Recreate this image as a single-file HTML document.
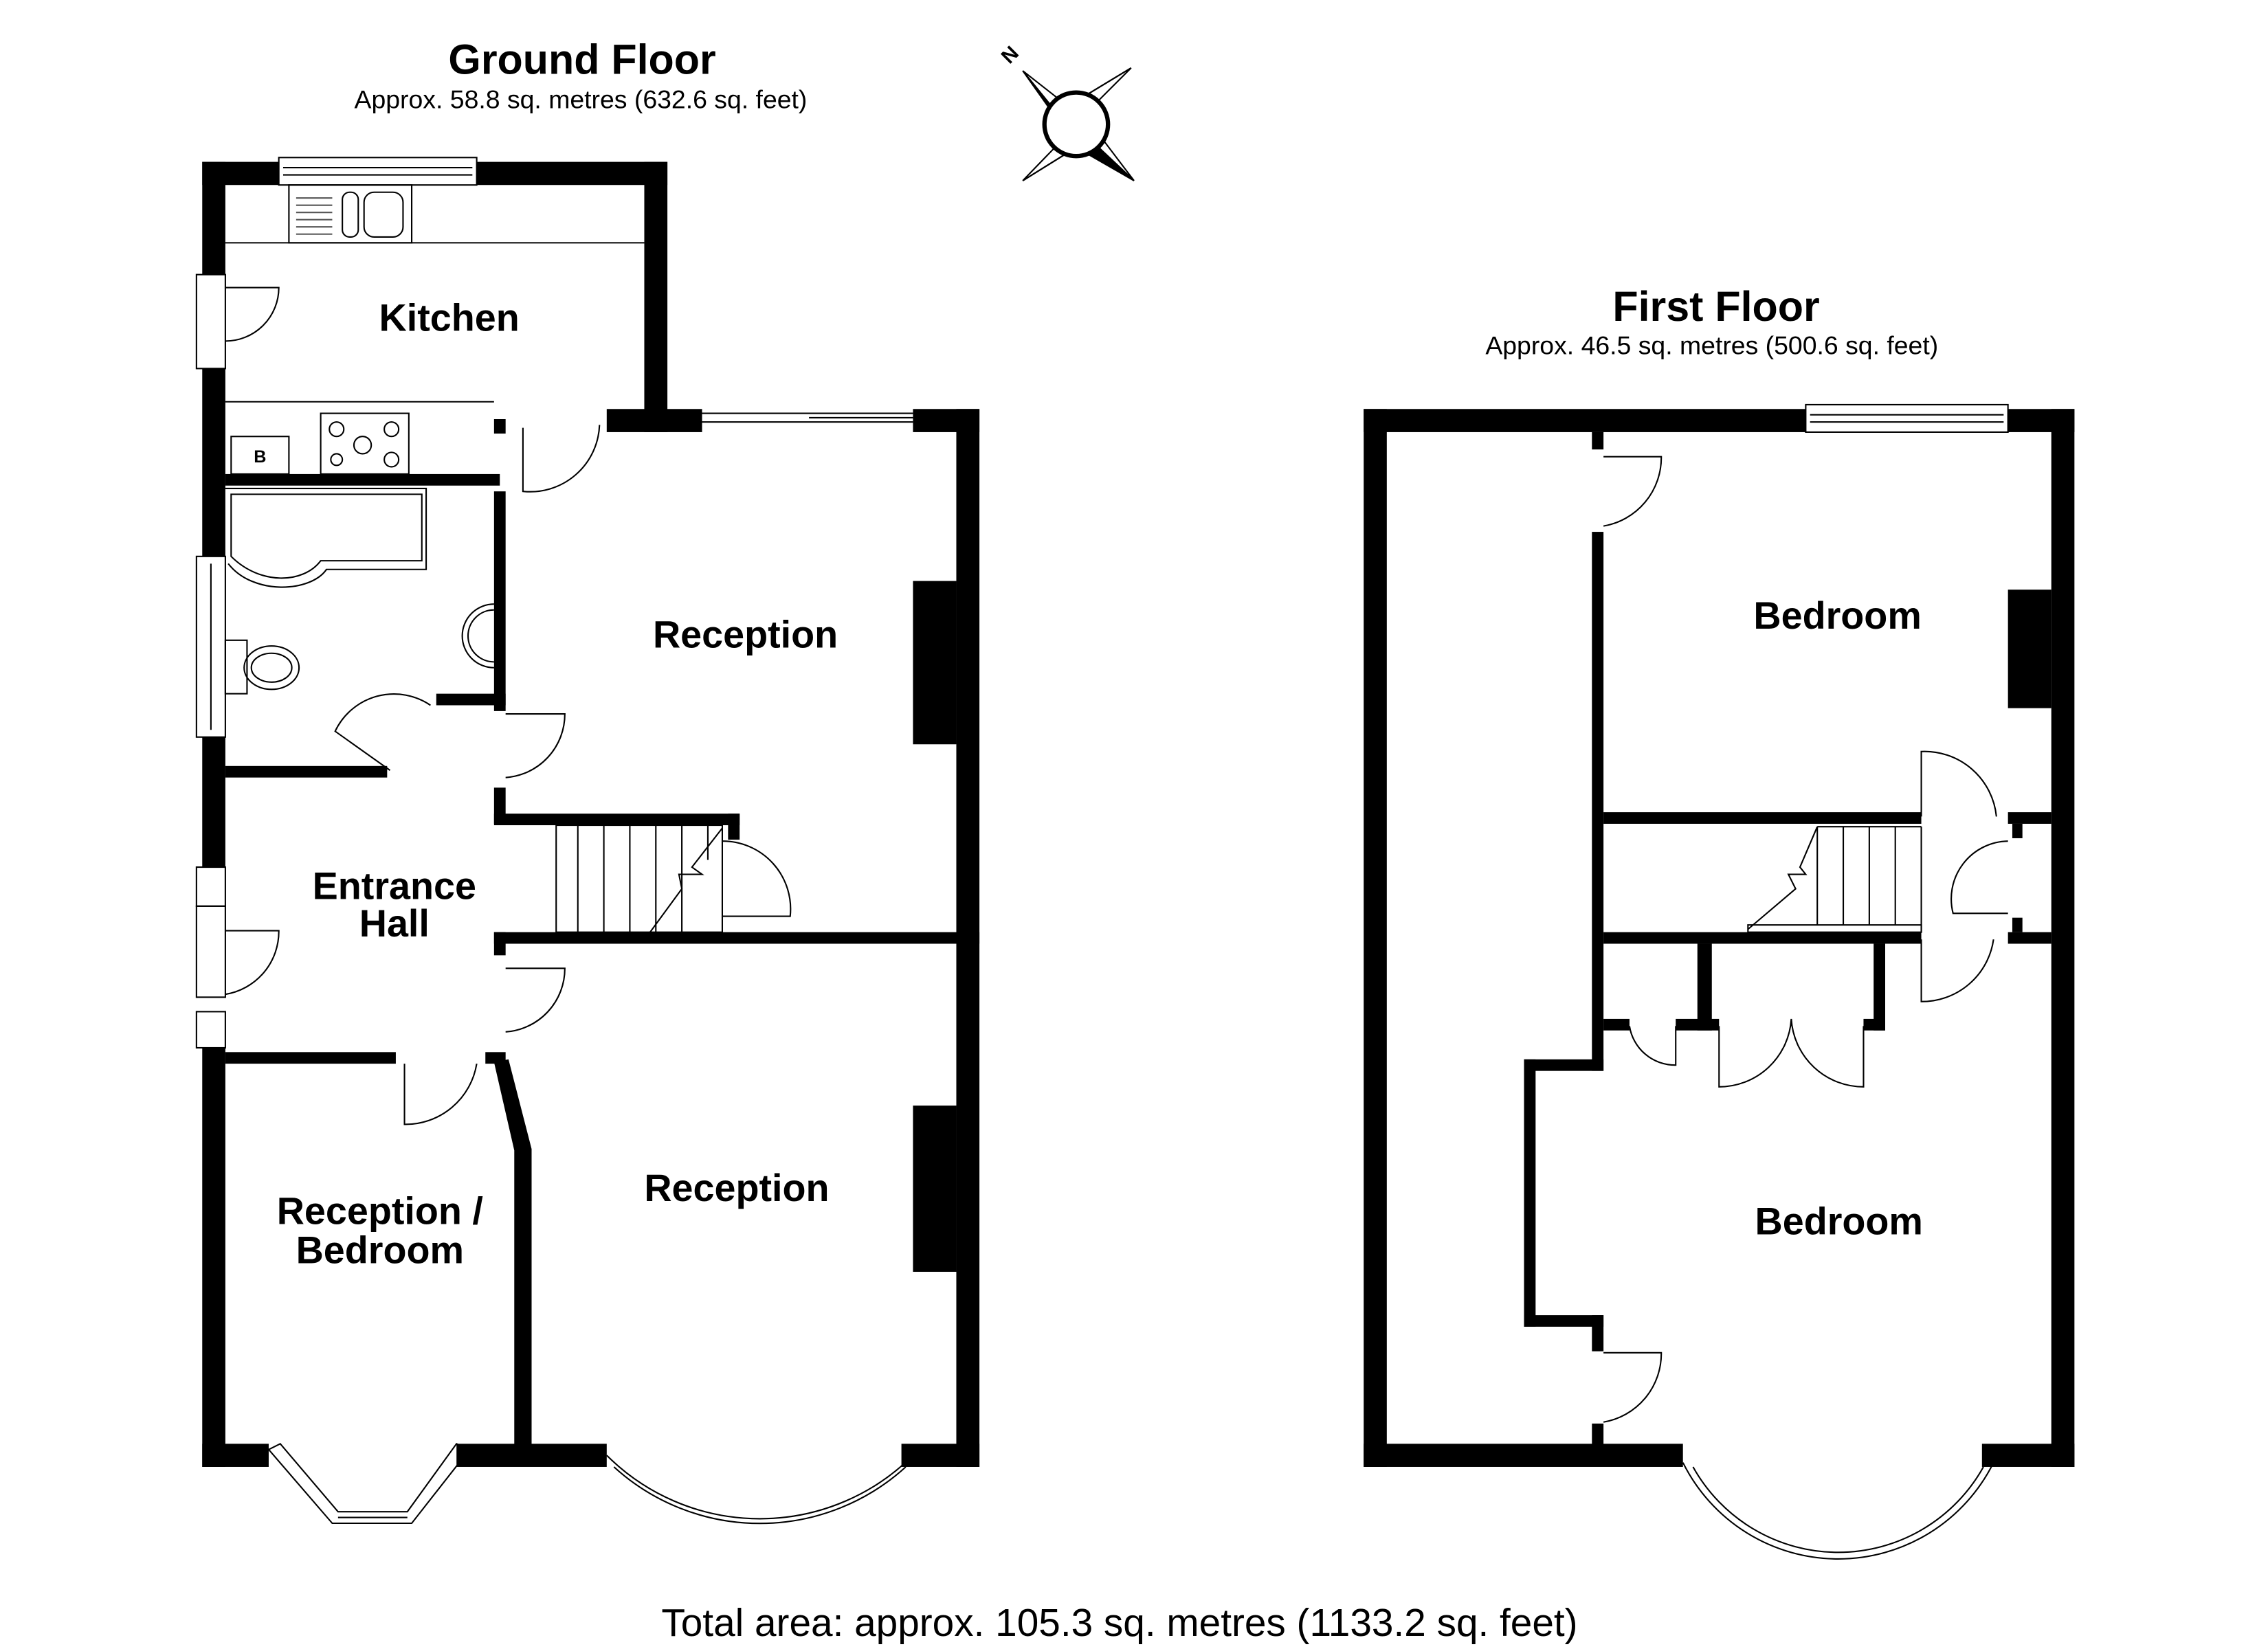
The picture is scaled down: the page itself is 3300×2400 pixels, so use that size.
<!DOCTYPE html>
<html><head><meta charset="utf-8"><style>html,body{margin:0;padding:0;background:#fff}svg{display:block}</style></head>
<body>
<svg width="3300" height="2400" viewBox="0 0 1570 1141" preserveAspectRatio="none" xmlns="http://www.w3.org/2000/svg" font-family="Liberation Sans, Arial, sans-serif">
<rect width="1570" height="1141" fill="#fff"/>
<text x="403" y="51" font-size="29" font-weight="bold" text-anchor="middle">Ground Floor</text>
<text x="402" y="75" font-size="17.8" text-anchor="middle">Approx. 58.8 sq. metres (632.6 sq. feet)</text>
<text x="1188" y="222" font-size="29" font-weight="bold" text-anchor="middle">First Floor</text>
<text x="1185" y="245" font-size="17.8" text-anchor="middle">Approx. 46.5 sq. metres (500.6 sq. feet)</text>
<text x="775" y="1132" font-size="27" text-anchor="middle">Total area: approx. 105.3 sq. metres (1133.2 sq. feet)</text>
<g stroke="#000" stroke-width="1" fill="#fff">
<polygon points="708,49 745,78 738,86"/>
<polygon points="708,49 738,86 730,80" fill="#000"/>
<polygon points="783,47 752,78 745,70"/>
<polygon points="783,47 745,70" fill="#000"/>
<polygon points="708,125 738,94 745,102"/>
<polygon points="708,125 745,102" fill="#000"/>
<polygon points="785,125 752,94 760,92"/>
<polygon points="785,125 752,94 745,102" fill="#000"/>
<circle cx="745" cy="86" r="22" stroke-width="3"/>
</g>
<text x="696" y="46" font-size="14" font-weight="bold" transform="rotate(-45 696 42)">N</text>

<g fill="#000">
<rect x="140" y="112" width="16" height="78"/>
<rect x="140" y="255" width="16" height="130"/>
<rect x="140" y="510" width="16" height="90"/>
<rect x="140" y="725" width="16" height="290"/>
<rect x="140" y="112" width="53" height="16"/>
<rect x="330" y="112" width="132" height="16"/>
<rect x="446" y="112" width="16" height="187"/>
<rect x="420" y="283" width="66" height="16"/>
<rect x="632" y="283" width="46" height="16"/>
<rect x="662" y="283" width="16" height="732"/>
<rect x="632" y="402" width="30" height="113"/>
<rect x="632" y="765" width="30" height="115"/>
<rect x="140" y="999" width="46" height="16"/>
<rect x="316" y="999" width="104" height="16"/>
<rect x="624" y="999" width="54" height="16"/>
<rect x="156" y="328" width="190" height="8"/>
<rect x="342" y="290" width="8" height="10"/>
<rect x="342" y="340" width="8" height="152"/>
<rect x="302" y="480" width="48" height="8"/>
<rect x="156" y="530" width="112" height="8"/>
<rect x="342" y="545" width="8" height="25"/>
<rect x="342" y="563" width="170" height="8"/>
<rect x="504" y="563" width="8" height="18"/>
<rect x="342" y="645" width="336" height="8"/>
<rect x="342" y="645" width="8" height="16"/>
<rect x="156" y="728" width="118" height="8"/>
<rect x="336" y="728" width="14" height="8"/>
<polygon points="342,735 352,733 368,795 368,1000 356,1000 356,796"/>
<rect x="944" y="283" width="16" height="732"/>
<rect x="944" y="283" width="306" height="16"/>
<rect x="1390" y="283" width="46" height="16"/>
<rect x="1420" y="283" width="16" height="732"/>
<rect x="944" y="999" width="221" height="16"/>
<rect x="1372" y="999" width="64" height="16"/>
<rect x="1390" y="408" width="30" height="82"/>
<rect x="1102" y="299" width="8" height="12"/>
<rect x="1102" y="368" width="8" height="373"/>
<rect x="1055" y="733" width="55" height="8"/>
<rect x="1055" y="733" width="8" height="185"/>
<rect x="1055" y="910" width="55" height="8"/>
<rect x="1102" y="910" width="8" height="25"/>
<rect x="1102" y="985" width="8" height="16"/>
<rect x="1110" y="562" width="220" height="8"/>
<rect x="1390" y="562" width="30" height="8"/>
<rect x="1393" y="570" width="7" height="10"/>
<rect x="1110" y="645" width="220" height="8"/>
<rect x="1390" y="645" width="30" height="8"/>
<rect x="1393" y="635" width="7" height="10"/>
<rect x="1110" y="705" width="18" height="8"/>
<rect x="1160" y="705" width="30" height="8"/>
<rect x="1175" y="653" width="10" height="60"/>
<rect x="1290" y="705" width="15" height="8"/>
<rect x="1297" y="653" width="8" height="60"/>
</g>

<g fill="none" stroke="#000" stroke-width="1">
<rect x="193" y="109" width="137" height="19"/>
<line x1="196" y1="116" x2="327" y2="116"/><line x1="196" y1="121" x2="327" y2="121"/>
<rect x="136" y="385" width="20" height="125"/><line x1="146" y1="390" x2="146" y2="505"/>
<rect x="136" y="600" width="20" height="27"/><rect x="136" y="700" width="20" height="25"/>
<rect x="136" y="190" width="20" height="65"/><rect x="136" y="627" width="20" height="63"/>
<line x1="486" y1="286" x2="632" y2="286"/><line x1="486" y1="292" x2="632" y2="292"/><line x1="560" y1="289" x2="632" y2="289"/>
<line x1="156" y1="168" x2="446" y2="168"/>
<line x1="156" y1="278" x2="342" y2="278"/>
<rect x="200" y="128" width="85" height="40"/>
<rect x="237" y="133" width="11" height="31" rx="5"/>
<rect x="252" y="133" width="27" height="31" rx="7"/>
<g stroke="#555"><line x1="205" y1="137" x2="230" y2="137"/><line x1="205" y1="142" x2="230" y2="142"/><line x1="205" y1="147" x2="230" y2="147"/><line x1="205" y1="152" x2="230" y2="152"/><line x1="205" y1="157" x2="230" y2="157"/><line x1="205" y1="162" x2="230" y2="162"/></g>
<rect x="222" y="286" width="61" height="42"/>
<circle cx="233" cy="297" r="5"/><circle cx="233" cy="318" r="4"/><circle cx="251" cy="308" r="6"/><circle cx="271" cy="297" r="5"/><circle cx="271" cy="318" r="5"/>
<rect x="160" y="302" width="40" height="26"/>
<path d="M156,338 L295,338 L295,394 L226,394 C215,410 175,412 158,390"/>
<path d="M160,342 L292,342 L292,388 L222,388 C210,404 180,405 160,385 Z"/>
<rect x="156" y="443" width="15" height="37"/>
<ellipse cx="188" cy="462" rx="19" ry="15"/><ellipse cx="188" cy="462" rx="14" ry="10"/>
<path d="M342,418 A22,22 0 0 0 342,462"/><path d="M342,422 A18,18 0 0 0 342,458"/>
<rect x="385" y="571" width="115" height="74"/>
<line x1="400" y1="571" x2="400" y2="645"/><line x1="418" y1="571" x2="418" y2="645"/><line x1="436" y1="571" x2="436" y2="645"/><line x1="454" y1="571" x2="454" y2="645"/><line x1="472" y1="571" x2="472" y2="645"/><line x1="490" y1="571" x2="490" y2="595"/>
<path d="M500,573 L479,600 L486,605 L470,605 L472,615 L450,645"/>
<path d="M156,199 L193,199 A37,37 0 0 1 156,236"/>
<path d="M362,296 L362,340 A48,48 0 0 0 415,294"/>
<path d="M270,533 L232,506 A45,45 0 0 1 298,488"/>
<path d="M350,494 L391,494 A44,44 0 0 1 350,538"/>
<path d="M350,670 L391,670 A44,44 0 0 1 350,714"/>
<path d="M156,644 L193,644 A44,44 0 0 1 156,688"/>
<path d="M280,736 L280,778 A50,50 0 0 0 330,736"/>
<path d="M500,582 A47,47 0 0 1 547,634 L500,634"/>
<path d="M420,1007 A150,150 0 0 0 632,1007"/>
<path d="M425,1015 A150,150 0 0 0 627,1015"/>
<polygon points="186,1003 230,1054 285,1054 325,1003 316,999 282,1046 234,1046 194,999"/>
<line x1="234" y1="1050" x2="282" y2="1050"/>
<rect x="1250" y="280" width="140" height="19"/><line x1="1253" y1="287" x2="1387" y2="287"/><line x1="1253" y1="292" x2="1387" y2="292"/>
<path d="M1110,316 L1150,316 A48,48 0 0 1 1110,364"/>
<path d="M1110,936 L1150,936 A48,48 0 0 1 1110,984"/>
<path d="M1330,565 L1330,520 A50,50 0 0 1 1382,565"/>
<path d="M1390,582 A40,40 0 0 0 1352,632 L1390,632"/>
<path d="M1330,650 L1330,693 A50,50 0 0 0 1380,650"/>
<path d="M1160,710 L1160,737 A32,32 0 0 1 1128,710"/>
<path d="M1190,710 L1190,752 A50,50 0 0 0 1240,705 A50,50 0 0 0 1290,752 L1290,710"/>
<path d="M1165,1012 A120,120 0 0 0 1380,1012"/>
<path d="M1172,1015 A115,115 0 0 0 1373,1015"/>
<rect x="1210" y="640" width="120" height="5"/>
<line x1="1258" y1="572" x2="1258" y2="640"/><line x1="1276" y1="572" x2="1276" y2="640"/><line x1="1294" y1="572" x2="1294" y2="640"/><line x1="1312" y1="572" x2="1312" y2="640"/><line x1="1330" y1="572" x2="1330" y2="645"/>
<line x1="1258" y1="572" x2="1330" y2="572"/>
<path d="M1258,572 L1246,600 L1250,605 L1238,605 L1243,615 L1210,643"/>
</g>

<g font-size="26.5" font-weight="bold" text-anchor="middle">
<text x="311" y="229">Kitchen</text>
<text x="516" y="448">Reception</text>
<text x="273" y="622">Entrance</text>
<text x="273" y="648">Hall</text>
<text x="263" y="847">Reception /</text>
<text x="263" y="874">Bedroom</text>
<text x="510" y="831">Reception</text>
<text x="1272" y="435">Bedroom</text>
<text x="1273" y="854">Bedroom</text>
</g>
<text x="180" y="320" font-size="12" font-weight="bold" text-anchor="middle">B</text>
</svg>
</body></html>
